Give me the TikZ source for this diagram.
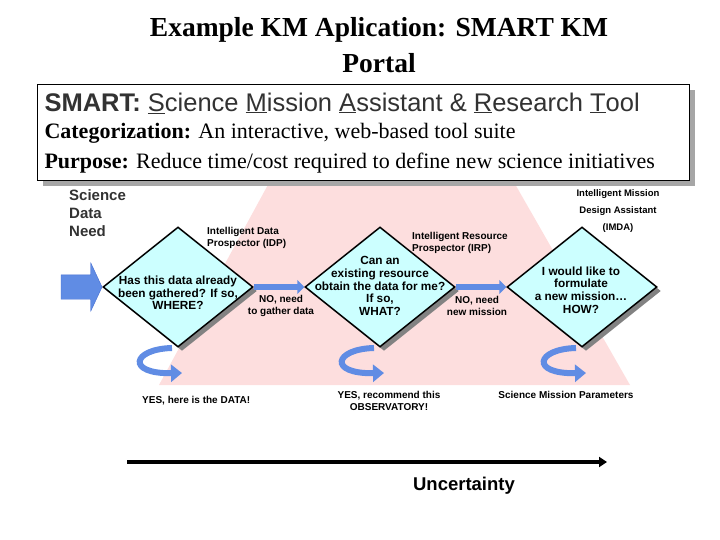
\documentclass[tikz,border=0pt]{standalone}
\usepackage{fontspec}
\setmainfont{Liberation Serif}
\setsansfont{Liberation Sans}
\usetikzlibrary{shapes.geometric,shapes.arrows,arrows.meta,shadows}
\definecolor{rose}{RGB}{253,222,222}
\definecolor{cyanclair}{RGB}{204,255,255}
\definecolor{bleu}{RGB}{96,140,228}
\definecolor{bleufonce}{RGB}{70,110,210}
\definecolor{ombre}{RGB}{130,130,130}
\definecolor{texte}{RGB}{50,50,50}
\tikzset{
    losange/.style={diamond, draw=black, line width=1.5pt, fill=cyanclair,
        minimum width=150pt, minimum height=120pt, inner sep=0pt,
        drop shadow={shadow xshift=4pt, shadow yshift=-4pt, fill=ombre, opacity=1}},
    dtexte/.style={align=center, inner sep=0pt, font=\sffamily\bfseries\fontsize{11.8}{12.6}\selectfont},
    petit/.style={inner sep=0pt, font=\sffamily\bfseries\fontsize{10}{12}\selectfont},
    fleche/.style={line width=6pt, draw=bleu, -{Triangle[length=7pt,width=14pt]}},
    boucle/.style={line width=6pt, draw=bleu, -{Triangle[length=11pt,width=17pt]}},
    cadre/.style={draw=black, fill=white, line width=0.8pt,
        drop shadow={shadow xshift=6pt, shadow yshift=-6pt, fill=gray!70, opacity=1}},
    grandefleche/.style={single arrow, fill=bleu, draw=bleufonce, line width=0.4pt,
        inner sep=12pt, single arrow head extend=12pt, single arrow tip angle=130,
        minimum height=41pt}
}
\begin{document}
\begin{tikzpicture}[x=1pt, y=-1pt]
    \def\fl{22} % taille de police du cadre
    \useasboundingbox (0,0) rectangle (720,540);

    % Fond rose en entonnoir
    \fill[rose] (276,170) -- (507,170) -- (630,385) -- (159,385) -- cycle;

    % Titre
    \node[font=\bfseries\fontsize{27.5}{27.5}\selectfont] (titre) at (379,30) {Example KM Aplication: SMART KM};
    \node[font=\bfseries\fontsize{27.5}{27.5}\selectfont] (titre2) at (379,63) {Portal};

    % Cadre de description
    \node[cadre, anchor=north west, minimum width=652pt, minimum height=96pt] (info) at (37,84) {};
    \node[anchor=west, text=texte, font=\sffamily\fontsize{25.5}{25.5}\selectfont] (smart) at (41,103)
        {\textbf{SMART:} \underline{S}cience \underline{M}ission \underline{A}ssistant \& \underline{R}esearch \underline{T}ool};
    \node[anchor=west, font=\fontsize{\fl}{\fl}\selectfont] (categ) at (41,133)
        {\textbf{Categorization:} An interactive, web-based tool suite};
    \node[anchor=west, font=\fontsize{\fl}{\fl}\selectfont] (but) at (41,163)
        {\textbf{Purpose:} Reduce time/cost required to define new science initiatives};

    % Boucles "YES" sous chaque losange (sous les losanges)
    \foreach \d/\x in {d1/178,d2/380,d3/582} {
        \coordinate (\d b) at (\x,347);
        \draw[boucle] ([shift={(-6,1)}]\d b) .. controls ([shift={(-46,2)}]\d b)
            and ([shift={(-52,27)}]\d b) .. ([shift={(4,26)}]\d b);
    }

    % Les trois losanges
    \node[losange] (d1) at (178,287) {};
    \node[losange] (d2) at (380,287) {};
    \node[losange] (d3) at (582,287) {};
    \node[dtexte] (q1) at (178,293) {Has this data already\\been gathered? If so,\\WHERE?};
    \node[dtexte] (q2) at (380,286) {Can an\\existing resource\\obtain the data for me?\\If so,\\WHAT?};
    \node[dtexte] (q3) at (581,290) {I would like to\\formulate\\a new mission\dots\\HOW?};

    % Fleche d'entree et fleches entre losanges
    \node[grandefleche, anchor=tip] (besoin) at (d1.west) {};
    \draw[fleche] (d1.east) -- (d2.west);
    \draw[fleche] (d2.east) -- (d3.west);

    % Etiquettes
    \node[anchor=west, align=left, text=texte, inner sep=0pt,
        font=\sffamily\bfseries\fontsize{15}{18}\selectfont] (need) at (69,213) {Science\\Data\\Need};
    \node[petit, anchor=west, align=left] (idp) at (207,238) {Intelligent Data\\Prospector (IDP)};
    \node[petit, align=center] (no1) at (281,306) {NO, need\\to gather data};
    \node[petit, anchor=west, align=left] (irp) at (412,243) {Intelligent Resource\\Prospector (IRP)};
    \node[petit, align=center] (no2) at (477,306) {NO, need\\new mission};
    \node[petit, align=center, font=\sffamily\bfseries\fontsize{9.5}{17}\selectfont] (imda) at (618,211)
        {Intelligent Mission\\Design Assistant\\(IMDA)};
    \node[petit, anchor=west] (yes1) at (142,401) {YES, here is the DATA!};
    \node[petit, align=center] (yes2) at (389,401) {YES, recommend this\\OBSERVATORY!};
    \node[petit] (param) at (566,395) {Science Mission Parameters};

    % Axe d'incertitude
    \coordinate (u0) at (127,462);
    \coordinate (u1) at (607,462);
    \draw[line width=4pt, -{Triangle[length=8pt,width=10pt]}] (u0) -- (u1);
    \node[font=\sffamily\bfseries\fontsize{18.5}{18.5}\selectfont] (incert) at (464,486) {Uncertainty};
\end{tikzpicture}
\end{document}
